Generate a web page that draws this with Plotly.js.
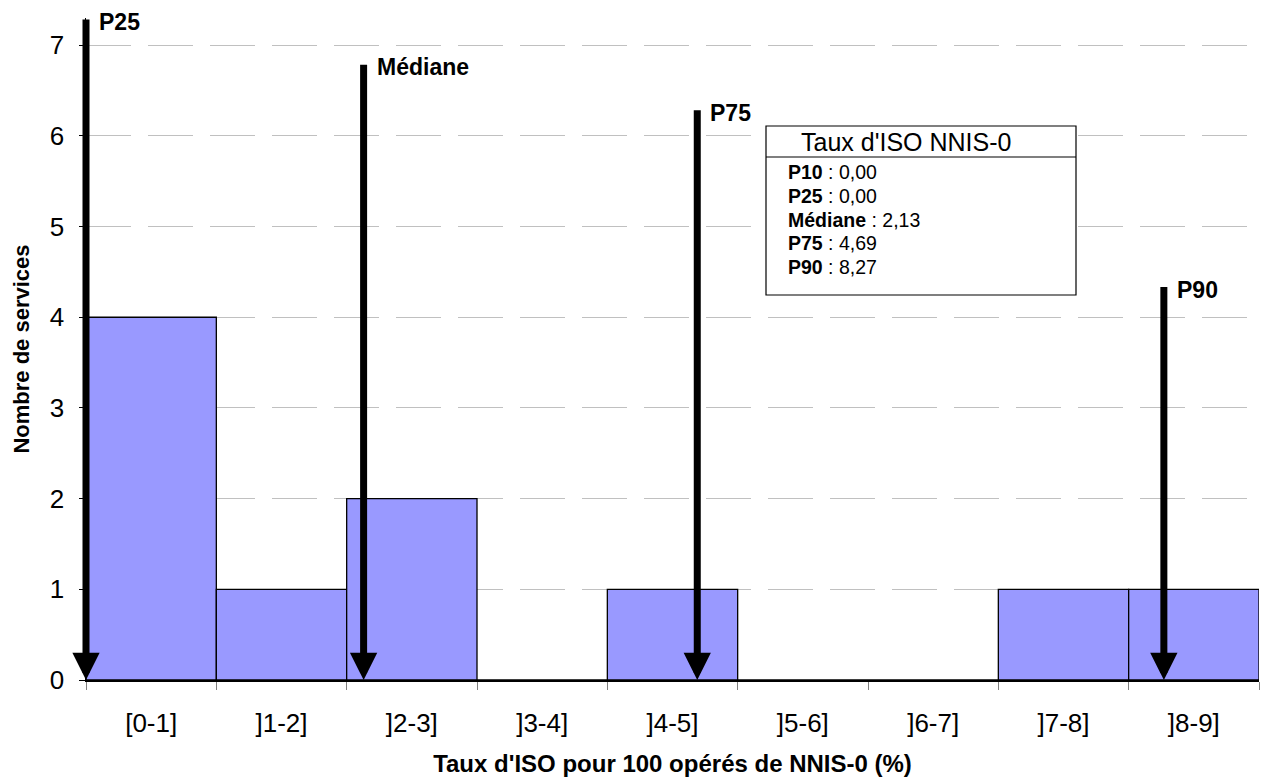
<!DOCTYPE html>
<html>
<head>
<meta charset="utf-8">
<script src="https://cdn.plot.ly/plotly-3.0.1.min.js"></script>
<style>html,body{margin:0;padding:0;background:#fff}#chart{width:1267px;height:781px}</style>
</head>
<body>
<div id="chart"></div>
<script>
// Histogram categories and counts
const categories = ["[0-1]", "]1-2]", "]2-3]", "]3-4]", "]4-5]", "]5-6]", "]6-7]", "]7-8]", "]8-9]"];
const counts = [4, 1, 2, 0, 1, 0, 0, 1, 1];

// Percentile arrows (value on x, arrow top height on y)
const arrowNames = ["P25", "Médiane", "P75", "P90"];
const arrowValues = [0.00, 2.13, 4.69, 8.27];
const arrowTops = [7.3, 6.8, 6.3, 4.35];

// Statistics box
const boxTitle = "Taux d'ISO NNIS-0";
const statNames = ["P10", "P25", "Médiane", "P75", "P90"];
const statValues = ["0,00", "0,00", "2,13", "4,69", "8,27"];

const yTicks = [0, 1, 2, 3, 4, 5, 6, 7];
const xTitle = "Taux d'ISO pour 100 opérés de NNIS-0 (%)";
const yTitle = "Nombre de services";

const FONT = "Liberation Sans, Arial, sans-serif";

// plot area in pixels (for converting box layout to paper coords)
const PL = 86, PR = 1259, PT = 18, PB = 680;
const px = v => (v - PL) / (PR - PL);
const py = v => (PB - v) / (PB - PT);

const centers = categories.map((c, i) => i + 0.5);

const trace = {
  type: "bar",
  x: centers,
  y: counts,
  width: categories.map(() => 1),
  marker: { color: "#9999FF", line: { color: "#000000", width: 1.3 } },
  hoverinfo: "skip"
};

const annotations = [];
arrowValues.forEach((v, i) => {
  annotations.push({
    x: v, y: 0, xref: "x", yref: "y",
    ax: v, ay: arrowTops[i], axref: "x", ayref: "y",
    text: "", showarrow: true,
    arrowhead: 2, arrowsize: 0.78, arrowwidth: 7, arrowcolor: "#000000",
    standoff: 0, startstandoff: 0
  });
  annotations.push({
    x: v, y: arrowTops[i], xref: "x", yref: "y",
    text: "<b>" + arrowNames[i] + "</b>", showarrow: false,
    xanchor: "left", yanchor: "middle", xshift: 11, yshift: -4,
    font: { family: FONT, size: 23, color: "#000000" }
  });
});

// statistics box text
annotations.push({
  x: px(906), y: py(142), xref: "paper", yref: "paper",
  text: boxTitle, showarrow: false, xanchor: "center", yanchor: "middle",
  font: { family: FONT, size: 25, color: "#000000" }
});
statNames.forEach((n, i) => {
  annotations.push({
    x: px(786), y: py(172 + i * 23.75), xref: "paper", yref: "paper",
    text: "<b>" + n + "</b> : " + statValues[i],
    showarrow: false, xanchor: "left", yanchor: "middle", align: "left",
    font: { family: FONT, size: 19.5, color: "#000000" }
  });
});

const shapes = [
  { type: "rect", xref: "paper", yref: "paper", x0: px(766), x1: px(1076), y0: py(295), y1: py(126),
    fillcolor: "#ffffff", line: { color: "#000000", width: 1.2 }, layer: "above" },
  { type: "line", xref: "paper", yref: "paper", x0: px(766), x1: px(1076), y0: py(157), y1: py(157),
    line: { color: "#000000", width: 1.2 }, layer: "above" }
];

const layout = {
  width: 1267, height: 781,
  margin: { l: PL, r: 1267 - PR, t: PT, b: 781 - PB },
  paper_bgcolor: "#ffffff", plot_bgcolor: "#ffffff",
  showlegend: false,
  bargap: 0,
  font: { family: FONT, color: "#000000" },
  xaxis: {
    range: [0, 9], tickvals: centers, ticktext: categories, ticks: "",
    ticklabelstandoff: 19,
    minor: { tick0: 0, dtick: 1, ticks: "outside", ticklen: 8, tickcolor: "#808080", showgrid: false },
    showgrid: false, zeroline: false, showline: true, linecolor: "#000000", linewidth: 1.5,
    tickfont: { family: FONT, size: 26, color: "#000000" },
    title: { text: "<b>" + xTitle + "</b>", font: { family: FONT, size: 24, color: "#000000" }, standoff: 18 },
    fixedrange: true
  },
  yaxis: {
    range: [0, 7.3], tickvals: yTicks, ticktext: yTicks.map(String),
    ticks: "outside", ticklen: 6, tickcolor: "#000000",
    ticklabelstandoff: 9,
    showgrid: true, gridcolor: "#c0c0c0", gridwidth: 1, griddash: "45px,17px",
    zeroline: false, showline: true, linecolor: "#000000", linewidth: 1.5,
    tickfont: { family: FONT, size: 26, color: "#000000" },
    title: { text: "<b>" + yTitle + "</b>", font: { family: FONT, size: 22, color: "#000000" }, standoff: 14 },
    fixedrange: true
  },
  annotations: annotations,
  shapes: shapes
};

Plotly.newPlot("chart", [trace], layout, { displayModeBar: false, staticPlot: true });
</script>
</body>
</html>
